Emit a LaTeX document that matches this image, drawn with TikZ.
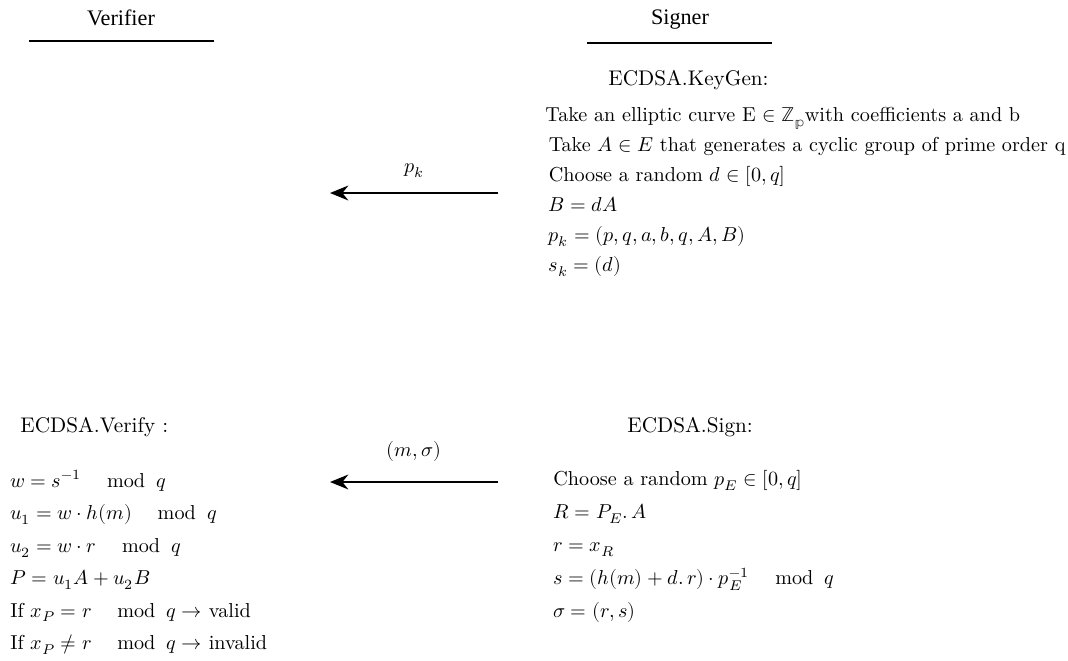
\documentclass[tikz,border=0pt]{standalone}
\usepackage{fontspec}
\usepackage{unicode-math}
\newfontfamily\headfont{Liberation Serif}
\usetikzlibrary{arrows.meta,positioning}

\newcommand{\modq}{\quad\;\mathrm{mod}\;\; q}

\begin{document}
\begin{tikzpicture}[
  x=0.01742cm, y=-0.01742cm,
  party/.style={font=\headfont\fontsize{11}{13}\selectfont, inner sep=1pt},
  rule/.style={line width=0.9pt},
  title/.style={anchor=west, inner sep=0pt, font=\fontsize{10.5}{12.5}\selectfont},
  steps/.style={anchor=north west, align=left, inner sep=0pt},
  msg/.style={-{Stealth[length=3.2mm, width=2.6mm]}, line width=0.9pt},
  label/.style={above=0.25cm, inner sep=0pt}
]
\useasboundingbox (0,0) rectangle (1068,660);

% parties
\node[party] (verifier) at (121,18) {Verifier};
\node[party] (signer) at (680,20) {Signer};
\draw[rule] (29,41) -- (214,41);
\draw[rule] (587,43) -- (772,43);

% key generation
\node[title] (keygen) at (608,80) {ECDSA.KeyGen:};
\node[steps] (keygensteps) at (545,107) {
  Take an elliptic curve E $\in \mathbb{Z}_{\mathbb{p}}$with coefficients a and b\\[2.9pt]
  \,Take $A \in E$ that generates a cyclic group of prime order q\\[2.9pt]
  \,Choose a random $d \in [0,q]$\\[2.9pt]
  \,$B = dA$\\[2.9pt]
  \,$p_k = (p,q,a,b,q,A,B)$\\[2.9pt]
  \,$s_k = (d)$
};

% signing
\node[title] (sign) at (627,427) {ECDSA.Sign:};
\node[steps] (signsteps) at (553,470) {
  Choose a random $p_E \in [0,q]$\\[4.4pt]
  $R = P_E.\,A$\\[4.4pt]
  $r = x_R$\\[4.4pt]
  $s = (h(m) + d.\,r)\cdot p_E^{-1} \modq$\\[4.4pt]
  $\sigma = (r,s)$
};

% verification
\node[title] (verify) at (20,427) {ECDSA.Verify :};
\node[steps] (verifysteps) at (10,470) {
  $w = s^{-1} \modq$\\[4.1pt]
  $u_1 = w\cdot h(m) \modq$\\[4.1pt]
  $u_2 = w\cdot r \modq$\\[4.1pt]
  $P = u_1A + u_2B$\\[4.1pt]
  If $x_P = r \modq \rightarrow$ valid\\[4.1pt]
  If $x_P \neq r \modq \rightarrow$ invalid
};

% messages
\coordinate (pkfrom) at (498,193);
\coordinate (pkto) at (330,193);
\coordinate (sigfrom) at (498,482);
\coordinate (sigto) at (330,482);
\draw[msg] (pkfrom) -- node[label] {$p_k$} (pkto);
\draw[msg] (sigfrom) -- node[label, above=0.35cm] {$(m,\sigma)$} (sigto);

\end{tikzpicture}
\end{document}
